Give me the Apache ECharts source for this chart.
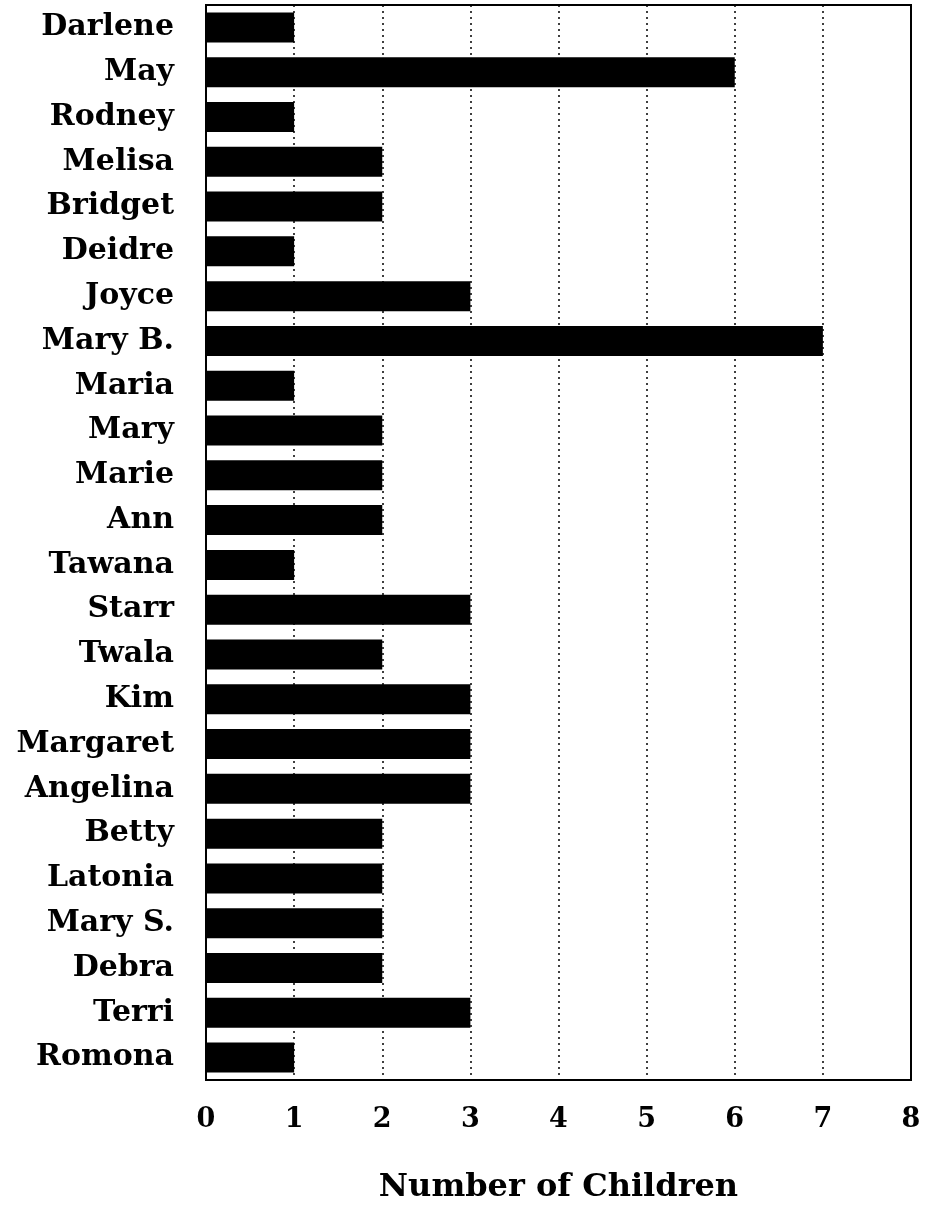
<!DOCTYPE html>
<html lang="en">
<head>
    <meta charset="UTF-8">
    <title>Number of Children</title>
    <script src="https://cdn.jsdelivr.net/npm/echarts@6/dist/echarts.min.js"></script>
    <style>
        html, body { margin: 0; padding: 0; background: #fff; }
        #chart { width: 925px; height: 1206px; }
    </style>
</head>
<body>
<div id="chart"></div>
<script type="text/javascript">
    // names, top to bottom
    var names = ['Darlene', 'May', 'Rodney', 'Melisa', 'Bridget', 'Deidre', 'Joyce', 'Mary B.',
        'Maria', 'Mary', 'Marie', 'Ann', 'Tawana', 'Starr', 'Twala', 'Kim',
        'Margaret', 'Angelina', 'Betty', 'Latonia', 'Mary S.', 'Debra', 'Terri', 'Romona'];
    var children = [1, 6, 1, 2, 2, 1, 3, 7,
        1, 2, 2, 2, 1, 3, 2, 3,
        3, 3, 2, 2, 2, 2, 3, 1];
    var xTicks = [0, 8, 1]; // min, max, interval

    var font = 'DejaVu Serif';
    var myChart = echarts.init(document.getElementById('chart'));

    myChart.setOption({
        animation: false,
        grid: {
            left: 206, right: 14, top: 5, bottom: 126,
            outerBoundsMode: 'none',
            containLabel: false,
            show: true,
            borderColor: '#000',
            borderWidth: 2
        },
        xAxis: {
            type: 'value',
            min: xTicks[0],
            max: xTicks[1],
            interval: xTicks[2],
            name: 'Number of Children',
            nameLocation: 'middle',
            nameGap: 92,
            nameTextStyle: { color: '#000', fontFamily: font, fontWeight: 'bold', fontSize: 32 },
            axisLine: { show: true, lineStyle: { color: '#000', width: 2 } },
            axisTick: { show: false },
            axisLabel: { color: '#000', fontFamily: font, fontWeight: 'bold', fontSize: 27, margin: 26 },
            splitLine: { show: true, lineStyle: { color: '#000', type: [2, 4], width: 1.5 } }
        },
        yAxis: {
            type: 'category',
            data: names,
            inverse: true,
            axisLine: { show: true, lineStyle: { color: '#000', width: 2 } },
            axisTick: { show: false },
            axisLabel: { color: '#000', fontFamily: font, fontWeight: 'bold', fontSize: 30, margin: 32 }
        },
        series: [{
            type: 'bar',
            data: children,
            barWidth: 30,
            itemStyle: { color: '#000' }
        }]
    });
</script>
</body>
</html>
